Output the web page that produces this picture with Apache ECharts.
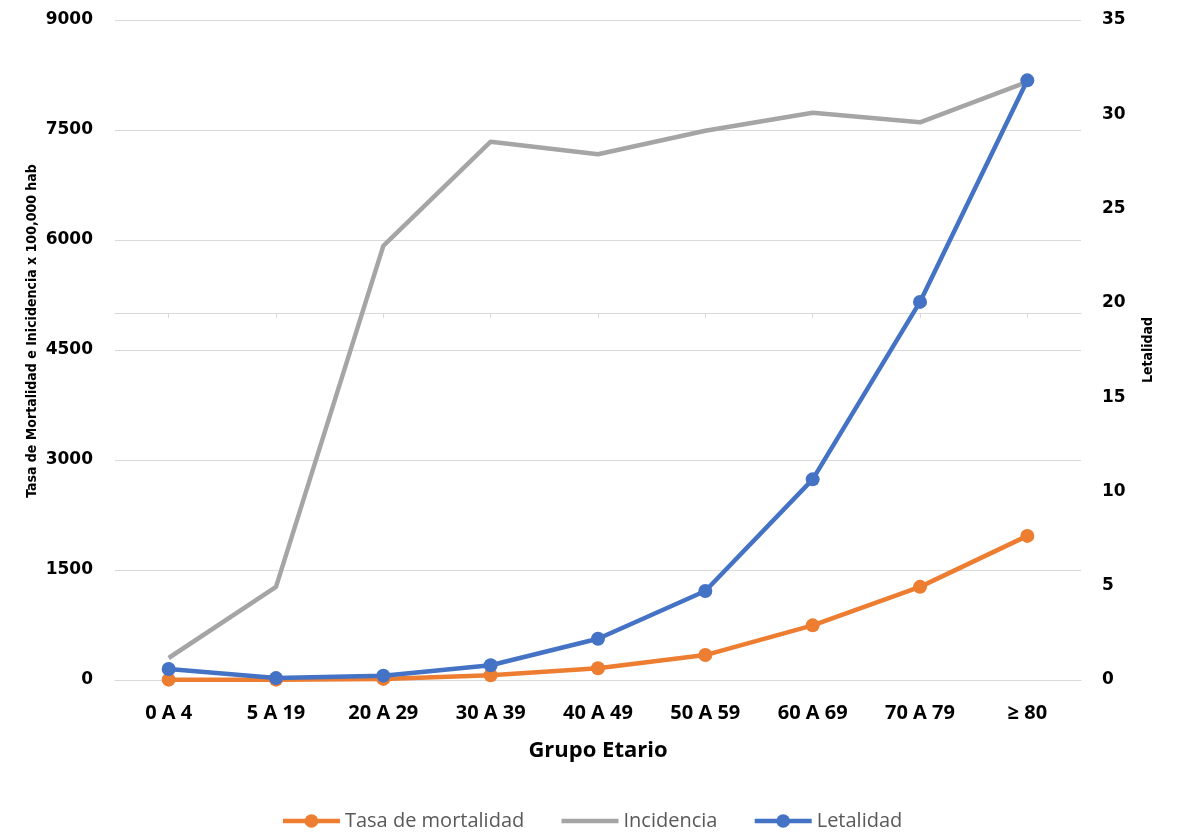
<!DOCTYPE html>
<html>
<head>
<meta charset="utf-8">
<script src="https://cdn.jsdelivr.net/npm/echarts@6/dist/echarts.min.js"></script>
<style>
html,body{margin:0;padding:0;background:#fff;}
#chart{width:1183px;height:833px;}
</style>
</head>
<body>
<div id="chart"></div>
<script>
const categories = ['0 A 4', '5 A 19', '20 A 29', '30 A 39', '40 A 49', '50 A 59', '60 A 69', '70 A 79', '≥ 80'];
const tasaMortalidad = [5, 5, 15, 65, 160, 340, 745, 1270, 1965];
const incidencia = [300, 1270, 5920, 7340, 7170, 7490, 7735, 7605, 8155];
const letalidad = [0.58, 0.1, 0.23, 0.78, 2.19, 4.72, 10.64, 20.05, 31.8];
const leftTicks = { min: 0, max: 9000, interval: 1500 };
const rightTicks = { min: 0, max: 35, interval: 5 };

const chart = echarts.init(document.getElementById('chart'));
const grid = '#d9d9d9';
const tickFont = '"DejaVu Sans", Verdana, sans-serif';
chart.setOption({
  animation: false,
  backgroundColor: '#ffffff',
  grid: { left: 115, right: 102, top: 20, bottom: 153, containLabel: false },
  legend: {
    top: 806,
    left: 'center',
    itemWidth: 57,
    itemHeight: 17,
    itemGap: 35,
    lineStyle: { width: 4.5 },
    textStyle: { fontFamily: 'Open Sans', fontSize: 20, color: '#595959' },
    data: [
      { name: 'Tasa de mortalidad' },
      { name: 'Incidencia', itemStyle: { opacity: 0 } },
      { name: 'Letalidad' }
    ]
  },
  graphic: [
    {
      type: 'text',
      x: 32, y: 331,
      rotation: Math.PI / 2,
      style: {
        text: 'Tasa de Mortalidad e Inicidencia x 100,000 hab',
        font: 'bold 14px "Liberation Sans Narrow", "DejaVu Sans Condensed", sans-serif',
        fill: '#000',
        align: 'center',
        verticalAlign: 'middle'
      }
    }
  ],
  xAxis: [
    {
      type: 'category',
      data: categories,
      boundaryGap: true,
      axisLine: { show: true, lineStyle: { color: grid, width: 1 } },
      axisTick: { show: false },
      axisLabel: { margin: 23, fontFamily: 'Open Sans', fontWeight: 'bold', fontSize: 20, color: '#000' },
      name: 'Grupo Etario',
      nameLocation: 'middle',
      nameGap: 60,
      nameTextStyle: { fontFamily: 'Open Sans', fontWeight: 'bold', fontSize: 22, color: '#000' }
    },
    {
      type: 'category',
      data: categories,
      position: 'bottom',
      offset: -367,
      boundaryGap: true,
      axisLine: { show: true, onZero: false, lineStyle: { color: grid, width: 1 } },
      axisTick: { show: true, alignWithLabel: true, length: 5, lineStyle: { color: grid } },
      axisLabel: { show: false },
      splitLine: { show: false }
    }
  ],
  yAxis: [
    {
      type: 'value',
      min: leftTicks.min, max: leftTicks.max, interval: leftTicks.interval,
      axisLine: { show: false },
      axisTick: { show: false },
      splitLine: { show: true, lineStyle: { color: grid, width: 1 } },
      axisLabel: { margin: 22, fontFamily: tickFont, fontWeight: 'bold', fontSize: 17, color: '#000', formatter: v => String(v) }
    },
    {
      type: 'value',
      position: 'right',
      min: rightTicks.min, max: rightTicks.max, interval: rightTicks.interval,
      axisLine: { show: false },
      axisTick: { show: false },
      splitLine: { show: false },
      axisLabel: { margin: 21, fontFamily: tickFont, fontWeight: 'bold', fontSize: 17, color: '#000', formatter: v => String(v) },
      name: 'Letalidad',
      nameLocation: 'middle',
      nameRotate: 90,
      nameGap: 60,
      nameTextStyle: { fontFamily: '"Liberation Sans Narrow", "DejaVu Sans Condensed", sans-serif', fontWeight: 'bold', fontSize: 14, color: '#000' }
    }
  ],
  series: [
    {
      name: 'Tasa de mortalidad', type: 'line', yAxisIndex: 0, xAxisIndex: 0,
      data: tasaMortalidad,
      symbol: 'circle', symbolSize: 14,
      lineStyle: { color: '#ED7D31', width: 4.5 },
      itemStyle: { color: '#ED7D31' }
    },
    {
      name: 'Incidencia', type: 'line', yAxisIndex: 0, xAxisIndex: 0,
      data: incidencia,
      symbol: 'none',
      lineStyle: { color: '#A5A5A5', width: 4.5 },
      itemStyle: { color: '#A5A5A5' }
    },
    {
      name: 'Letalidad', type: 'line', yAxisIndex: 1, xAxisIndex: 0,
      data: letalidad,
      symbol: 'circle', symbolSize: 14,
      lineStyle: { color: '#4472C4', width: 4.5 },
      itemStyle: { color: '#4472C4' }
    }
  ]
});
</script>
</body>
</html>
